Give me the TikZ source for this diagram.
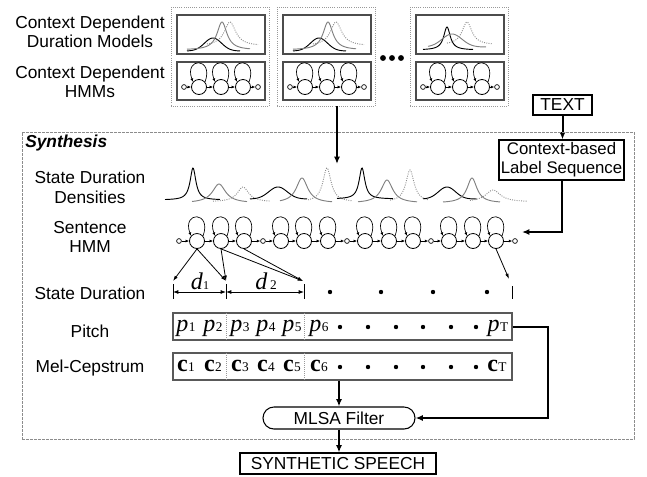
\documentclass[tikz,border=0pt]{standalone}
\usepackage{fontspec}
\setmainfont{Liberation Sans}
\newfontfamily\tms{Liberation Serif}
\usetikzlibrary{arrows.meta,fit}
\newcommand\denscurve[7]{\draw[#1] plot[domain=#6:#7,samples=90,smooth] (\x,{#4-(#4-#3)/(1+((\x-#2)/#5)*((\x-#2)/#5))});}
\newcommand\gausscurve[7]{\draw[#1] plot[domain=#6:#7,samples=90,smooth] (\x,{#4-(#4-#3)*exp(-((\x-#2)/#5)*((\x-#2)/#5))});}
\newcommand\pv[1]{{\tms\fontsize{18}{18}\selectfont\itshape p}\kern0.3pt\raisebox{-0.5pt}{\tms\fontsize{10}{10}\selectfont #1}}
\newcommand\cv[1]{{\tms\fontsize{18}{18}\selectfont\bfseries c}\kern0.3pt\raisebox{-0.5pt}{\tms\fontsize{10}{10}\selectfont #1}}
\begin{document}
\begin{tikzpicture}[x=0.75pt,y=-0.75pt,
  lbl/.style={font=\fontsize{13}{14.6}\selectfont,align=center,inner sep=0pt},
  st/.style={circle,draw,line width=0.6pt,minimum size=11.25pt,inner sep=0pt},
  ini/.style={circle,draw,line width=0.5pt,minimum size=3.6pt,inner sep=0pt},
  tr/.style={line width=0.5pt,-{Latex[length=2.6pt,width=2.2pt]}},
  big/.style={line width=1.5pt,-{Latex[length=5.5pt,width=4.5pt]}},
  thin/.style={line width=0.6pt,-{Latex[length=4pt,width=2.6pt]}},
  outerbox/.style={draw=black!40,densely dotted,line width=0.6pt,inner sep=0pt},
  innerbox/.style={draw=black!70,line width=1.1pt,inner sep=0pt},
  tbox/.style={draw,line width=0.8pt,inner sep=0pt,font=\fontsize{13}{14.6}\selectfont,align=center},
  rowbox/.style={draw=black!65,line width=0.9pt,inner sep=0pt},
  sep/.style={draw=black!40,densely dotted,line width=0.5pt},
  blk/.style={black,line width=0.7pt},
  gry/.style={black!50,line width=0.7pt},
  dtd/.style={black!45,densely dotted,line width=0.7pt},
  dot/.style={circle,fill,inner sep=0pt,minimum size=3.3pt},
  bigdot/.style={circle,fill,inner sep=0pt,minimum size=4.4pt},
  val/.style={anchor=base,inner sep=0pt}]
\useasboundingbox (0,0) rectangle (647,476);

% ---------- left labels ----------
\node[lbl] (lcdd) at (90,32) {Context Dependent\\Duration Models};
\node[lbl] (lcdh) at (90,82) {Context Dependent\\HMMs};

% ---------- top model boxes ----------
\foreach \b/\o in {A/0,B/106,C/239}{
  \node[outerbox,fit={({171+\o},7) ({269+\o},106)}] (out\b) {};
  \node[innerbox,fit={({177+\o},15) ({265+\o},54)}] (dur\b) {};
  \node[innerbox,fit={({177+\o},62) ({265+\o},100)}] (hmm\b) {};
  \node[ini] (\b0) at ({184+\o},87) {};
  \node[st] (\b1) at ({199+\o},87) {};
  \node[st] (\b2) at ({221+\o},87) {};
  \node[st] (\b3) at ({243+\o},87) {};
  \node[ini] (\b4) at ({258+\o},87) {};
  \draw[tr] (\b0) -- (\b1);
  \draw[tr] (\b1) -- (\b2);
  \draw[tr] (\b2) -- (\b3);
  \draw[tr] (\b3) -- (\b4);
  \foreach \k in {1,2,3}
    \draw[tr] (\b\k.40) .. controls +(70:20pt) and +(110:20pt) .. (\b\k.140);
}
% duration curves in boxes
\gausscurve{blk}{213}{38}{51}{12}{187}{240}
\denscurve{gry}{222}{22}{50}{6}{187}{250}
\denscurve{dtd}{230}{22}{46}{7}{207}{258}
\gausscurve{blk}{319}{38}{51}{12}{293}{346}
\denscurve{gry}{328}{22}{50}{6}{293}{356}
\denscurve{dtd}{336}{22}{46}{7}{313}{364}
\denscurve{blk}{447}{27}{50}{4}{423}{473}
\gausscurve{gry}{452}{34}{47}{14}{428}{486}
\denscurve{dtd}{467}{22}{45}{6}{447}{492}
% ellipsis dots
\node[bigdot] (e1) at (383,58) {};
\node[bigdot] (e2) at (392,58) {};
\node[bigdot] (e3) at (401,58) {};

% ---------- TEXT and label sequence ----------
\node[tbox,minimum width=44.25pt,minimum height=15pt] (text) at (562.5,105) {TEXT};
\node[tbox,minimum width=93.75pt,minimum height=30pt,font=\fontsize{12.6}{14.2}\selectfont] (ctx) at (561.5,160) {Context-based\\Label Sequence};
\draw[big] (text.south) -- (text.south |- ctx.north);

% ---------- synthesis frame ----------
\node[draw=black!45,dash pattern=on 2pt off 1pt,line width=0.6pt,inner sep=0pt,fit={(22,132) (634,439)}] (synbox) {};
\node[anchor=west,inner sep=0pt,font=\fontsize{13}{14.6}\selectfont\bfseries\itshape] (syn) at (25,143) {Synthesis};

\node[lbl] (lsdd) at (90,187.5) {State Duration\\Densities};
\node[lbl] (lshmm) at (90,237) {Sentence\\HMM};
\node[lbl] (lsd) at (90,293) {State Duration};
\node[lbl] (lp) at (90,331) {Pitch};
\node[lbl] (lmc) at (90,368) {Mel-Cepstrum};

% arrow from models
\coordinate (arrin) at (337,164);
\draw[big] (outB.south -| arrin) -- (arrin);

% state duration densities
\denscurve{blk}{193}{168}{200}{3.5}{165}{220}
\denscurve{gry}{219}{184}{203}{8}{192}{247}
\denscurve{dtd}{243}{187}{202}{7}{213}{270}
\gausscurve{blk}{278}{187}{199}{13}{250}{307}
\denscurve{gry}{302}{178}{203}{7}{280}{332}
\denscurve{dtd}{327}{168}{202}{5}{308}{352}
\denscurve{blk}{362}{168}{199}{3.5}{337}{393}
\denscurve{gry}{387}{180}{203}{7}{358}{417}
\denscurve{dtd}{410}{170}{202}{5}{390}{428}
\gausscurve{blk}{447}{187}{199}{12}{423}{477}
\denscurve{gry}{472}{178}{203}{6}{443}{500}
\denscurve{dtd}{493}{190}{202}{9}{470}{527}

% sentence HMM
\foreach \n/\xx in {1/197,2/221,3/244,4/281,5/304,6/328,7/365,8/389,9/413,10/449,11/473,12/496}
  \node[st] (s\n) at (\xx,241) {};
\foreach \n/\xx in {0/179,1/263,2/347,3/431,4/515}
  \node[ini] (i\n) at (\xx,241) {};
\foreach \a/\b in {i0/s1,s1/s2,s2/s3,s3/i1,i1/s4,s4/s5,s5/s6,s6/i2,i2/s7,s7/s8,s8/s9,s9/i3,i3/s10,s10/s11,s11/s12,s12/i4}
  \draw[tr] (\a) -- (\b);
\foreach \n in {1,...,12}
  \draw[tr] (s\n.40) .. controls +(70:20pt) and +(110:20pt) .. (s\n.140);

% label sequence -> sentence HMM
\coordinate (hmmin) at (522,232);
\draw[big] (ctx.south) |- (hmmin);

% state durations
\coordinate (a1) at (173,281);
\coordinate (a2) at (226,281);
\coordinate (a3) at (303,281);
\coordinate (a4) at (509,279);
\draw[thin] (s1.south) -- (a1);
\draw[thin] (s1.south) -- (a2);
\draw[thin] (s2.south) -- (a2);
\draw[thin] (s2.south) -- (a3);
\draw[thin] (s3.south) -- (a3);
\draw[thin] (s12.south) -- (a4);
\coordinate (t1) at (173,292);
\coordinate (t2) at (226,292);
\coordinate (t3) at (304,292);
\coordinate (t4) at (512,292);
\foreach \t in {t1,t2,t3}
  \draw[line width=0.7pt] ([yshift=6pt]\t) -- ([yshift=-5pt]\t);
\draw[line width=0.7pt] ([yshift=4.5pt]t4) -- ([yshift=-5pt]t4);
\draw[line width=0.7pt,{Latex[length=4pt,width=3pt]}-{Latex[length=4pt,width=3pt]}] (t1) -- (t2);
\draw[line width=0.7pt,{Latex[length=4pt,width=3pt]}-{Latex[length=4pt,width=3pt]}] (t2) -- (t3);
\node[val] (d1) at (200,289) {{\tms\fontsize{18}{18}\selectfont\itshape d}\kern0.3pt{\tms\fontsize{9}{9}\selectfont 1}};
\node[val] (d2) at (266,289) {{\tms\fontsize{18}{18}\selectfont\itshape d}\kern2pt{\tms\fontsize{10}{10}\selectfont 2}};
\foreach \xx [count=\k] in {330,381,433,487}
  \node[dot] (sd\k) at (\xx,292) {};

% pitch and mel-cepstrum rows
\node[rowbox,fit={(173,313) (512,340)}] (pitch) {};
\node[rowbox,fit={(173,353) (512,380)}] (mel) {};
\foreach \xx in {226,304}{
  \draw[sep] (\xx,313) -- (\xx,340);
  \draw[sep] (\xx,353) -- (\xx,380);
}
\foreach \xx/\k in {186/1,213/2,240/3,266/4,292/5,319/6}{
  \node[val] (p\k) at (\xx,331) {\pv{\k}};
  \node[val] (c\k) at (\xx,371) {\cv{\k}};
}
\foreach \xx [count=\k] in {340,368,396,423,451,476}{
  \node[dot] (pd\k) at (\xx,327) {};
  \node[dot] (cd\k) at (\xx,367) {};
}
\node[val] (pT) at (498,331) {\pv{T}};
\node[val] (cT) at (497,371) {\cv{T}};

% MLSA and output
\node[draw,line width=0.8pt,rounded corners=8.2pt,minimum width=114pt,minimum height=16.5pt,inner sep=0pt,font=\fontsize{13}{14.6}\selectfont] (mlsa) at (339,418) {MLSA Filter};
\node[tbox,minimum width=147pt,minimum height=15.75pt] (synth) at (338,463.5) {SYNTHETIC SPEECH};
\draw[big] (mel.south -| mlsa.north) -- (mlsa.north);
\draw[big] (mlsa.south) -- (mlsa.south |- synth.north);
\draw[big] (pitch.east) -- ++(35,0) |- (mlsa.east);
\end{tikzpicture}
\end{document}
